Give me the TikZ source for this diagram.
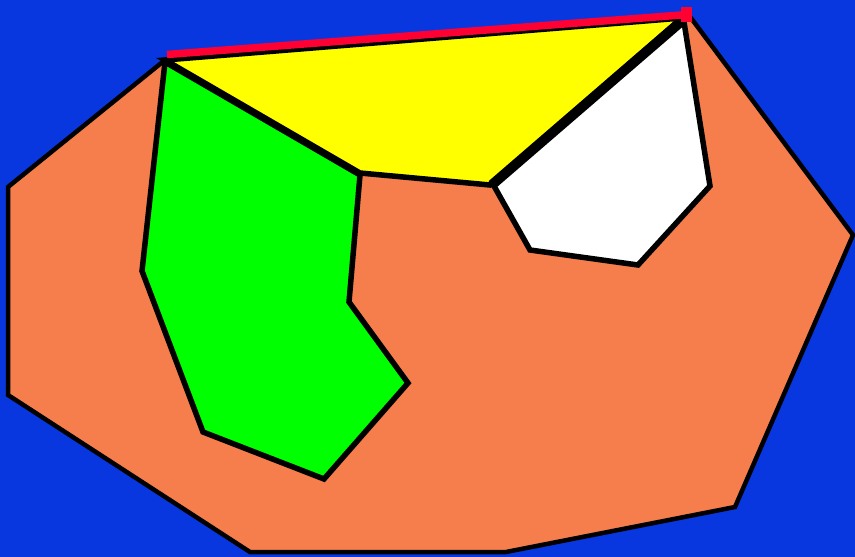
\documentclass[tikz,border=0pt]{standalone}
\definecolor{bgblue}{HTML}{0837E0}
\definecolor{orng}{HTML}{F57E4C}
\definecolor{grn}{HTML}{00FF00}
\definecolor{ylw}{HTML}{FFFF00}
\definecolor{redl}{HTML}{FF0033}
\begin{document}
\begin{tikzpicture}[x=1pt,y=-1pt,line join=miter,
  outer/.style={draw=black,line width=4.5pt,fill=orng},
  piece/.style={draw=black,line width=5.5pt}]
\fill[bgblue] (0,0) rectangle (855,557);
\useasboundingbox (0,0) rectangle (855,557);
% orange outer region
\path[outer] (165,60) -- (688,14) -- (853,235) -- (735,507) -- (506,552) -- (250,552) -- (8,395) -- (8,187) -- cycle;
% green region
\path[piece,fill=grn] (165,62) -- (360,175) -- (349,302) -- (408,383) -- (324,479) -- (203,432) -- (142,271) -- cycle;
% yellow region
\path[piece,fill=ylw] (165,60) -- (682,18) -- (490,185) -- (360,173) -- cycle;
% white region
\path[piece,fill=white] (684,22) -- (710,186) -- (638,265) -- (530,250) -- (494,186) -- cycle;
\draw[black,line width=7.5pt] (681,20) -- (491,184);
% red edge
\draw[redl,line width=7.5pt] (167,54.5) -- (688,14.5);
\fill[redl] (681,7) rectangle (692,22);
\end{tikzpicture}
\end{document}
